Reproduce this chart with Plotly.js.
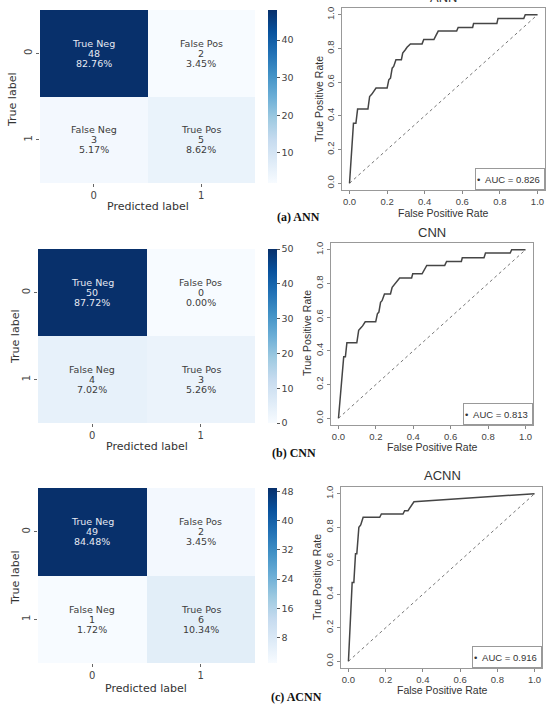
<!DOCTYPE html>
<html>
<head>
<meta charset="utf-8">
<script src="https://cdn.plot.ly/plotly-3.0.1.min.js"></script>
<style>
  html, body { margin: 0; padding: 0; background: #fff; }
  #fig { width: 551px; height: 705px; }
</style>
</head>
<body>
<div id="fig"></div>
<script>
// ---- confusion matrices (rows: true label 0/1, cols: predicted label 0/1)
const cellNames = [["True Neg", "False Pos"], ["False Neg", "True Pos"]];
const annCounts  = [[48, 2], [3, 5]];
const cnnCounts  = [[50, 0], [4, 3]];
const acnnCounts = [[49, 2], [1, 6]];
const classTicks = ["0", "1"];

// colour bar ticks per matrix
const annBarTicks  = [10, 20, 30, 40];
const cnnBarTicks  = [0, 10, 20, 30, 40, 50];
const acnnBarTicks = [8, 16, 24, 32, 40, 48];

// ---- ROC curves
const annFpr = [0, 0.021, 0.034, 0.043, 0.098, 0.107, 0.119, 0.128, 0.141, 0.200, 0.209, 0.218, 0.227, 0.235, 0.247, 0.276, 0.283, 0.297, 0.306, 0.324, 0.386, 0.395, 0.449, 0.458, 0.472, 0.570, 0.578, 0.655, 0.660, 0.784, 0.790, 0.927, 0.935, 1.0];
const annTpr = [0, 0.356, 0.356, 0.440, 0.440, 0.515, 0.529, 0.541, 0.565, 0.565, 0.614, 0.624, 0.683, 0.693, 0.733, 0.733, 0.772, 0.792, 0.807, 0.827, 0.827, 0.853, 0.853, 0.873, 0.903, 0.903, 0.925, 0.925, 0.948, 0.948, 0.978, 0.978, 1.0, 1.0];

const cnnFpr = [0, 0.028, 0.037, 0.045, 0.098, 0.108, 0.120, 0.129, 0.143, 0.199, 0.208, 0.216, 0.225, 0.233, 0.246, 0.278, 0.287, 0.300, 0.312, 0.327, 0.391, 0.397, 0.447, 0.458, 0.472, 0.568, 0.578, 0.657, 0.662, 0.778, 0.786, 0.918, 0.926, 1.0];
const cnnTpr = [0, 0.365, 0.365, 0.448, 0.448, 0.522, 0.537, 0.548, 0.572, 0.572, 0.620, 0.630, 0.688, 0.698, 0.738, 0.738, 0.777, 0.797, 0.814, 0.832, 0.832, 0.857, 0.857, 0.877, 0.907, 0.907, 0.930, 0.930, 0.952, 0.952, 0.980, 0.980, 1.0, 1.0];

const acnnFpr = [0, 0.020, 0.029, 0.038, 0.045, 0.056, 0.066, 0.079, 0.168, 0.177, 0.293, 0.302, 0.320, 0.334, 0.352, 1.0];
const acnnTpr = [0, 0.470, 0.470, 0.642, 0.642, 0.800, 0.814, 0.859, 0.859, 0.879, 0.879, 0.899, 0.899, 0.925, 0.952, 1.0];

const aucLabels = ["AUC = 0.826", "AUC = 0.813", "AUC = 0.916"];
const rocTitles = ["ANN", "CNN", "ACNN"];
const captions  = ["(a) ANN", "(b) CNN", "(c) ACNN"];
const rocTicks  = [0, 0.2, 0.4, 0.6, 0.8, 1.0];

// ---- page geometry (pixels)
const W = 551, H = 705;
const fx = (a, b) => [a / W, b / W];
const fy = (top, bottom) => [1 - bottom / H, 1 - top / H];
const px = v => v / W;
const py = v => 1 - v / H;

// matplotlib "Blues"
const blues = [
  [0.000, "#f7fbff"], [0.125, "#deebf7"], [0.250, "#c6dbef"],
  [0.375, "#9ecae1"], [0.500, "#6baed6"], [0.625, "#4292c6"],
  [0.750, "#2171b5"], [0.875, "#08519c"], [1.000, "#08306b"]
];

const SNS = "DejaVu Sans, sans-serif";
const RF = "Liberation Sans, Arial, sans-serif";

const panels = [
  { counts: annCounts,  bar: annBarTicks,  hx: [40, 255], hy: [10, 183],  rx: [342, 545], ry: [8, 190],
    trueLbl: [13, 100], predLbl: [148, 207], cap: [275, 217], title: [443, -3], fprT: [443, 213], tprT: [319, 99],
    fpr: annFpr, tpr: annTpr },
  { counts: cnnCounts,  bar: cnnBarTicks,  hx: [38, 255], hy: [249, 423], rx: [331, 533], ry: [243, 425],
    trueLbl: [15, 337], predLbl: [147, 446], cap: [270, 453], title: [432, 232], fprT: [432, 447], tprT: [307, 333],
    fpr: cnnFpr, tpr: cnnTpr },
  { counts: acnnCounts, bar: acnnBarTicks, hx: [38, 255], hy: [488, 663], rx: [341, 542], ry: [487, 668],
    trueLbl: [15, 578], predLbl: [146, 688], cap: [269, 697], title: [442, 475], fprT: [442, 690], tprT: [317, 577],
    fpr: acnnFpr, tpr: acnnTpr }
];

const data = [];
const layout = {
  width: W, height: H,
  margin: { l: 0, r: 0, t: 0, b: 0 },
  paper_bgcolor: "#fff", plot_bgcolor: "#fff",
  showlegend: false,
  annotations: []
};

// free-standing text placed by its centre, in page pixels
function pageText(x, y, text, font, extra) {
  return Object.assign({
    xref: "paper", yref: "paper", x: px(x), y: py(y),
    xanchor: "center", yanchor: "middle", text: text, showarrow: false, font: font
  }, extra || {});
}

panels.forEach((p, i) => {
  const hxa = "x" + (2 * i + 1), hya = "y" + (2 * i + 1);
  const rxa = "x" + (2 * i + 2), rya = "y" + (2 * i + 2);
  const hxKey = "xaxis" + (i === 0 ? "" : 2 * i + 1), hyKey = "yaxis" + (i === 0 ? "" : 2 * i + 1);
  const rxKey = "xaxis" + (2 * i + 2), ryKey = "yaxis" + (2 * i + 2);

  const flat = p.counts.flat();
  const zmin = Math.min(...flat), zmax = Math.max(...flat);
  const total = flat.reduce((a, b) => a + b, 0);

  // confusion matrix heatmap with its colour bar
  data.push({
    type: "heatmap", xaxis: hxa, yaxis: hya,
    z: p.counts, x: [0, 1], y: [0, 1],
    zmin: zmin, zmax: zmax, colorscale: blues, hoverinfo: "skip",
    colorbar: {
      x: px(268), xanchor: "left", xpad: 0,
      y: 1 - (p.hy[0] + p.hy[1]) / 2 / H, yanchor: "middle", ypad: 0,
      len: (p.hy[1] - p.hy[0]) / H, lenmode: "fraction",
      thickness: 9, outlinewidth: 0,
      tickvals: p.bar, ticks: "outside", ticklen: 3, tickcolor: "#555",
      tickfont: { family: SNS, size: 9.5, color: "#444" }
    }
  });

  layout[hxKey] = {
    domain: fx(p.hx[0], p.hx[1]), anchor: hya, range: [-0.5, 1.5],
    tickvals: [0, 1], ticktext: classTicks, ticks: "outside", ticklen: 3, tickcolor: "#666",
    showgrid: false, zeroline: false, showline: false, fixedrange: true,
    tickfont: { family: SNS, size: 10, color: "#444" }
  };
  layout[hyKey] = {
    domain: fy(p.hy[0], p.hy[1]), anchor: hxa, range: [1.5, -0.5],
    tickvals: [0, 1], ticktext: classTicks, ticks: "outside", ticklen: 3, tickcolor: "#666",
    tickangle: -90, showgrid: false, zeroline: false, showline: false, fixedrange: true,
    tickfont: { family: SNS, size: 10, color: "#444" }
  };

  // three-line cell labels
  for (let r = 0; r < 2; r++) {
    for (let c = 0; c < 2; c++) {
      const v = p.counts[r][c];
      const frac = (v - zmin) / (zmax - zmin);
      const col = frac > 0.5 ? "#e6e9f2" : "#3c3c3c";
      const lines = [cellNames[r][c], String(v), (100 * v / total).toFixed(2) + "%"];
      lines.forEach((t, k) => {
        layout.annotations.push({
          xref: hxa, yref: hya, x: c, y: r, xanchor: "center", yanchor: "middle",
          text: t, showarrow: false,
          yshift: 10 - 10 * k, font: { family: SNS, size: 9.5, color: col }
        });
      });
    }
  }

  layout.annotations.push(pageText(p.predLbl[0], p.predLbl[1], "Predicted label",
    { family: SNS, size: 11, color: "#333" }));
  layout.annotations.push(pageText(p.trueLbl[0], p.trueLbl[1], "True label",
    { family: SNS, size: 11, color: "#333" }, { textangle: -90 }));
  layout.annotations.push(pageText(p.cap[0], p.cap[1], "<b>" + captions[i] + "</b>",
    { family: "Liberation Serif, Times New Roman, serif", size: 12, color: "#111" }, { xanchor: "left" }));

  // ROC curve and chance diagonal
  data.push({
    type: "scatter", mode: "lines", xaxis: rxa, yaxis: rya,
    x: [0, 1], y: [0, 1], hoverinfo: "skip",
    line: { color: "#777", width: 1, dash: "dot" }
  });
  data.push({
    type: "scatter", mode: "lines", xaxis: rxa, yaxis: rya,
    x: p.fpr, y: p.tpr, hoverinfo: "skip",
    line: { color: "#454545", width: 1.5 }
  });

  const rocAxis = {
    range: [-0.04, 1.04], tickvals: rocTicks, ticktext: rocTicks.map(v => v.toFixed(1)),
    ticks: "outside", ticklen: 3, tickcolor: "#888",
    showline: true, mirror: true, linecolor: "#999", linewidth: 1,
    showgrid: false, zeroline: false, fixedrange: true,
    tickfont: { family: RF, size: 9.5, color: "#444" }
  };
  layout[rxKey] = Object.assign({}, rocAxis, { domain: fx(p.rx[0], p.rx[1]), anchor: rya });
  layout[ryKey] = Object.assign({}, rocAxis, { domain: fy(p.ry[0], p.ry[1]), anchor: rxa, tickangle: -90 });

  layout.annotations.push(pageText(p.fprT[0], p.fprT[1], "False Positive Rate",
    { family: RF, size: 10.5, color: "#333" }));
  layout.annotations.push(pageText(p.tprT[0], p.tprT[1], "True Positive Rate",
    { family: RF, size: 10.5, color: "#333" }, { textangle: -90 }));
  layout.annotations.push(pageText(p.title[0], p.title[1], rocTitles[i],
    { family: RF, size: 13, color: "#333" }));
  // AUC legend box in the lower-right corner
  layout.annotations.push({
    xref: rxa + " domain", yref: rya + " domain", x: 1, y: 0, xanchor: "right", yanchor: "bottom",
    text: "\u2022  " + aucLabels[i], showarrow: false, align: "left",
    width: 66, height: 18, borderpad: 1, bordercolor: "#999", borderwidth: 1, bgcolor: "#fff",
    font: { family: RF, size: 9.5, color: "#333" }
  });
});

Plotly.newPlot("fig", data, layout, { staticPlot: true, displayModeBar: false });
</script>
</body>
</html>
